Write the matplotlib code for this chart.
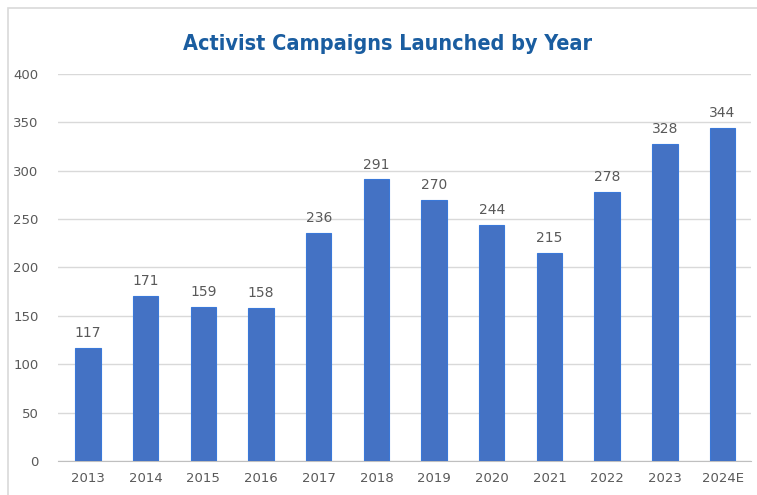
import matplotlib.pyplot as plt
from matplotlib.patches import Rectangle

years = ['2013', '2014', '2015', '2016', '2017', '2018', '2019', '2020', '2021', '2022', '2023', '2024E']
campaigns = [117, 171, 159, 158, 236, 291, 270, 244, 215, 278, 328, 344]
yticks = [0, 50, 100, 150, 200, 250, 300, 350, 400]

fig = plt.figure(figsize=(7.57, 4.95), dpi=100)
fig.patches.append(Rectangle((8 / 757, -0.1), 1.2, 1.1 - 8 / 495, transform=fig.transFigure,
                             fill=False, edgecolor='#D9D9D9', linewidth=1.2))

ax = fig.add_axes([0.0766, 0.0687, 0.916, 0.7818])
x = range(len(years))
bars = ax.bar(x, campaigns, width=0.44, color='#4472C4', edgecolor='#3A78D8', linewidth=0.8, zorder=3)

for xi, v in zip(x, campaigns):
    ax.text(xi, v + 8, str(v), ha='center', va='bottom', fontsize=10, color='#595959')

ax.set_xlim(-0.52, len(years) - 0.5)
ax.set_ylim(0, 400)
ax.set_yticks(yticks)
ax.set_xticks(list(x))
ax.set_xticklabels(years)
ax.tick_params(axis='both', length=0, labelsize=9.5, colors='#595959')
ax.tick_params(axis='y', pad=14)
ax.tick_params(axis='x', pad=8)
ax.grid(axis='y', color='#D9D9D9', linewidth=1, zorder=0)
for side in ['top', 'right', 'left']:
    ax.spines[side].set_visible(False)
ax.spines['bottom'].set_color('#BFBFBF')

fig.text(0.512, 0.912, 'Activist Campaigns Launched by Year', ha='center', va='center',
         fontsize=15.5, fontweight='bold', fontstretch='condensed', color='#1A5DA0',
         family=['DejaVu Sans'])

fig.savefig('out.png', dpi=100)
